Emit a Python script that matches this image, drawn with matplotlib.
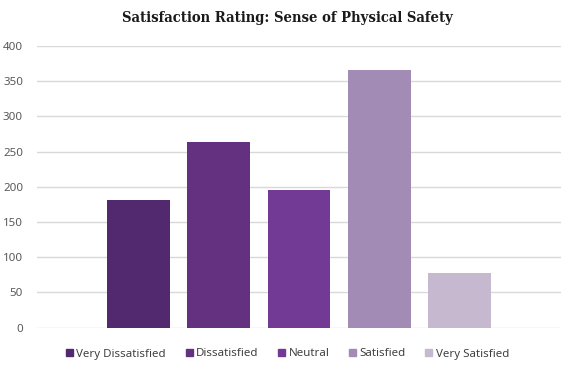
import numpy as np
import matplotlib
matplotlib.use("Agg")
import matplotlib.pyplot as plt
from matplotlib.patches import Patch

# data
categories = ["Very Dissatisfied", "Dissatisfied", "Neutral", "Satisfied", "Very Satisfied"]
counts = [181, 264, 196, 366, 78]
colors = ["#52296E", "#643181", "#723A94", "#A28BB5", "#C5B8CF"]
yticks = [0, 50, 100, 150, 200, 250, 300, 350, 400]

plt.rcParams.update({"font.family": ["Noto Sans", "DejaVu Sans"]})

fig = plt.figure(figsize=(5.75, 3.72), dpi=100)
ax = fig.add_axes([37 / 575, 1 - 327.7 / 372, 524 / 575, (327.7 - 46) / 372])

# one category, five series side by side
step, w = 0.1531, 0.1202
n = len(categories)
for i, (c, v, col) in enumerate(zip(categories, counts, colors)):
    ax.bar((i - (n - 1) / 2) * step, v, w, color=col, label=c, zorder=3)

ax.set_xlim(-0.5, 0.5)
ax.set_ylim(0, 400)
ax.set_yticks(yticks)
ax.set_xticks([])
ax.grid(axis="y", color="#D9D9D9", lw=1, zorder=0)
for s in ax.spines.values():
    s.set_visible(False)
ax.tick_params(axis="y", length=0, pad=10, labelsize=8.3, labelcolor="#595959")

fig.text(0.5, 1 - 18 / 372, "Satisfaction Rating: Sense of Physical Safety",
         ha="center", va="center", fontsize=10.6, fontweight="bold",
         fontstretch="condensed", family=["DejaVu Serif"], color="#1a1a1a")

handles = [Patch(color=col, label=c) for c, col in zip(categories, colors)]
fig.legend(handles=handles, loc="center", bbox_to_anchor=(0.5, 1 - 354 / 372),
           ncol=5, frameon=False, fontsize=8.3, handlelength=0.6, handleheight=0.6,
           handletextpad=0.3, columnspacing=1.7, labelcolor="#404040")

fig.savefig("out.png", dpi=100)
